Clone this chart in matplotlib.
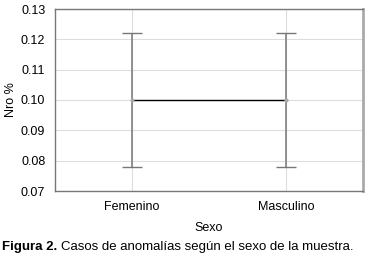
import matplotlib.pyplot as plt

categories = ['Femenino', 'Masculino']
means = [0.10, 0.10]
errors = [0.022, 0.022]
yticks = [0.07, 0.08, 0.09, 0.10, 0.11, 0.12, 0.13]

plt.rcParams['font.family'] = ['Liberation Sans', 'DejaVu Sans']

fig = plt.figure(figsize=(3.65, 2.61), dpi=100)
ax = fig.add_axes([55/365, 1-191/261, 308/365, 182/261])

x = range(len(categories))
ax.plot(x, means, color='black', linewidth=1.0, zorder=3)
ax.errorbar(x, means, yerr=errors, fmt='none', ecolor='#777777',
            elinewidth=1.1, capsize=7, capthick=1.0, zorder=2)
ax.plot(x, means, 'o', color='#aaaaaa', markersize=2, zorder=4)

ax.set_xlim(-0.5, 1.5)
ax.set_ylim(0.07, 0.13)
ax.set_yticks(yticks)
ax.set_yticklabels(['%.2f' % v for v in yticks])
ax.set_xticks(list(x))
ax.set_xticklabels(categories)
ax.grid(True, color='#dddddd', linewidth=0.8)
ax.set_axisbelow(True)
ax.tick_params(axis='y', length=0, labelsize=9, pad=7)
ax.tick_params(axis='x', length=0, labelsize=9, pad=7)
for s in ax.spines.values():
    s.set_color('#777777')
    s.set_linewidth(1.0)
ax.spines['right'].set_color('#aaaaaa')
ax.spines['right'].set_linewidth(2.0)

ax.set_xlabel('Sexo', fontsize=9, labelpad=7)
ax.set_ylabel('Nro %', fontsize=9, labelpad=3)

fig.text(2/365, 1-247/261, 'Figura 2.', fontsize=9.5, fontweight='bold', va='center')
fig.text(61/365, 1-247/261, 'Casos de anomalías según el sexo de la muestra.',
         fontsize=9.5, va='center')

fig.savefig('out.png', dpi=100)
